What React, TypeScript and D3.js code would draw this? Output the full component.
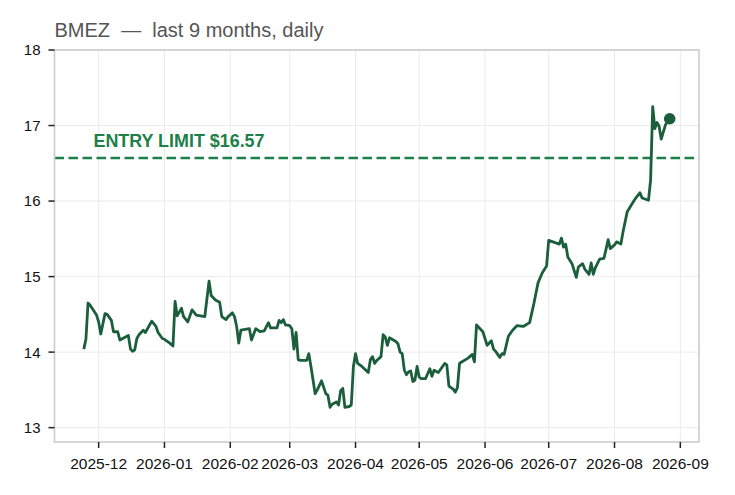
import React from 'react';
import * as d3 from 'd3';

// daily closes
const dates = [
  '2025-11-24', '2025-11-25', '2025-11-26', '2025-11-27', '2025-11-30', '2025-12-01', '2025-12-02', '2025-12-04',
  '2025-12-05', '2025-12-07', '2025-12-08', '2025-12-10', '2025-12-11', '2025-12-13', '2025-12-15', '2025-12-16',
  '2025-12-17', '2025-12-18', '2025-12-19', '2025-12-20', '2025-12-22', '2025-12-23', '2025-12-24', '2025-12-26',
  '2025-12-28', '2025-12-29', '2025-12-31', '2026-01-01', '2026-01-03', '2026-01-05', '2026-01-06', '2026-01-07',
  '2026-01-09', '2026-01-10', '2026-01-12', '2026-01-14', '2026-01-16', '2026-01-20', '2026-01-22', '2026-01-23',
  '2026-01-25', '2026-01-27', '2026-01-28', '2026-01-30', '2026-01-31', '2026-02-02', '2026-02-03', '2026-02-04',
  '2026-02-05', '2026-02-06', '2026-02-08', '2026-02-10', '2026-02-11', '2026-02-13', '2026-02-15', '2026-02-17',
  '2026-02-19', '2026-02-20', '2026-02-23', '2026-02-24', '2026-02-25', '2026-02-26', '2026-02-27', '2026-03-01',
  '2026-03-02', '2026-03-03', '2026-03-04', '2026-03-05', '2026-03-06', '2026-03-09', '2026-03-10', '2026-03-11',
  '2026-03-13', '2026-03-14', '2026-03-16', '2026-03-18', '2026-03-19', '2026-03-20', '2026-03-21', '2026-03-23',
  '2026-03-24', '2026-03-25', '2026-03-26', '2026-03-27', '2026-03-29', '2026-03-30', '2026-03-31', '2026-04-01',
  '2026-04-02', '2026-04-04', '2026-04-07', '2026-04-08', '2026-04-09', '2026-04-10', '2026-04-11', '2026-04-13',
  '2026-04-14', '2026-04-15', '2026-04-16', '2026-04-17', '2026-04-20', '2026-04-21', '2026-04-22', '2026-04-23',
  '2026-04-24', '2026-04-25', '2026-04-26', '2026-04-27', '2026-04-28', '2026-04-29', '2026-04-30', '2026-05-01',
  '2026-05-02', '2026-05-04', '2026-05-06', '2026-05-07', '2026-05-08', '2026-05-10', '2026-05-13', '2026-05-14',
  '2026-05-15', '2026-05-17', '2026-05-18', '2026-05-19', '2026-05-20', '2026-05-21', '2026-05-24', '2026-05-26',
  '2026-05-27', '2026-05-28', '2026-05-31', '2026-06-02', '2026-06-04', '2026-06-05', '2026-06-06', '2026-06-08',
  '2026-06-09', '2026-06-10', '2026-06-12', '2026-06-14', '2026-06-16', '2026-06-19', '2026-06-22', '2026-06-24',
  '2026-06-26', '2026-06-28', '2026-06-30', '2026-07-01', '2026-07-03', '2026-07-06', '2026-07-07', '2026-07-08',
  '2026-07-09', '2026-07-10', '2026-07-12', '2026-07-14', '2026-07-15', '2026-07-17', '2026-07-18', '2026-07-20',
  '2026-07-21', '2026-07-22', '2026-07-23', '2026-07-25', '2026-07-27', '2026-07-28', '2026-07-29', '2026-07-30',
  '2026-08-01', '2026-08-02', '2026-08-04', '2026-08-05', '2026-08-07', '2026-08-09', '2026-08-11', '2026-08-13',
  '2026-08-14', '2026-08-17', '2026-08-18', '2026-08-19', '2026-08-20', '2026-08-21', '2026-08-22', '2026-08-23',
  '2026-08-25', '2026-08-27',
];

const closes = [
  14.04, 14.17, 14.65, 14.62, 14.49, 14.40, 14.24, 14.51,
  14.50, 14.42, 14.27, 14.27, 14.16, 14.19, 14.22, 14.04,
  14.01, 14.03, 14.18, 14.23, 14.29, 14.26, 14.31, 14.41,
  14.34, 14.26, 14.18, 14.17, 14.13, 14.08, 14.67, 14.48,
  14.58, 14.47, 14.40, 14.56, 14.49, 14.47, 14.94, 14.75,
  14.69, 14.66, 14.47, 14.43, 14.47, 14.52, 14.47, 14.34,
  14.12, 14.29, 14.30, 14.31, 14.16, 14.31, 14.27, 14.28,
  14.39, 14.32, 14.32, 14.42, 14.39, 14.43, 14.36, 14.35,
  14.31, 14.04, 14.26, 13.90, 13.89, 13.89, 13.98, 13.81,
  13.45, 13.50, 13.62, 13.45, 13.43, 13.27, 13.31, 13.34,
  13.30, 13.49, 13.52, 13.27, 13.28, 13.30, 13.81, 13.98,
  13.85, 13.81, 13.73, 13.90, 13.94, 13.85, 13.89, 13.94,
  14.23, 14.20, 14.09, 14.19, 14.14, 14.11, 14.00, 13.98,
  13.76, 13.70, 13.74, 13.75, 13.61, 13.63, 13.81, 13.67,
  13.65, 13.65, 13.78, 13.68, 13.76, 13.73, 13.85, 13.83,
  13.55, 13.51, 13.47, 13.53, 13.85, 13.87, 13.92, 13.97,
  13.87, 14.36, 14.27, 14.09, 14.15, 14.04, 14.01, 13.93,
  13.98, 13.97, 14.21, 14.29, 14.35, 14.34, 14.39, 14.64,
  14.92, 15.05, 15.14, 15.48, 15.46, 15.43, 15.51, 15.39,
  15.43, 15.26, 15.17, 14.99, 15.13, 15.17, 15.10, 15.03,
  15.18, 15.03, 15.12, 15.23, 15.24, 15.36, 15.49, 15.37,
  15.42, 15.46, 15.43, 15.59, 15.86, 15.95, 16.04, 16.11,
  16.04, 16.01, 16.28, 17.25, 16.96, 17.04, 16.99, 16.82,
  17.01, 17.09,
];

const yTicks = [13, 14, 15, 16, 17, 18];
const yRange = [12.81, 18.0];
const entryLimit = 16.57;
const ticker = 'BMEZ';

const width = 735;
const height = 495;
const margin = { top: 50, right: 36, bottom: 53, left: 54.5 };

const font = '"Liberation Sans", Arial, sans-serif';
const lineColor = '#1b5e3c';
const limitColor = '#1e8049';

export default function App() {
  const parse = d3.utcParse('%Y-%m-%d');
  const data = dates.map((d, i) => ({ date: parse(d) as Date, close: closes[i] }));

  const innerW = width - margin.left - margin.right;
  const innerH = height - margin.top - margin.bottom;

  // matplotlib-style 5% padding on the time axis
  const [t0, t1] = d3.extent(data, d => d.date) as [Date, Date];
  const pad = (+t1 - +t0) * 0.05;
  const x = d3.scaleUtc()
    .domain([new Date(+t0 - pad), new Date(+t1 + pad)])
    .range([0, innerW]);
  const y = d3.scaleLinear().domain(yRange).range([innerH, 0]);

  const xTicks = x.ticks(d3.utcMonth.every(1) as d3.TimeInterval);
  const fmt = d3.utcFormat('%Y-%m');

  const line = d3.line<{ date: Date; close: number }>()
    .x(d => x(d.date))
    .y(d => y(d.close));

  const last = data[data.length - 1];

  return (
    <svg width={width} height={height} style={{ position: 'absolute', left: 0, top: 0, background: '#fff' }}>
      <text x={margin.left} y={37} fontFamily={font} fontSize={20} fill="#555" style={{ whiteSpace: 'pre' }}>
        {`${ticker}  —  last 9 months, daily`}
      </text>
      <g transform={`translate(${margin.left},${margin.top})`}>
        {/* grid */}
        {yTicks.map(t => (
          <line key={`gy${t}`} x1={0} x2={innerW} y1={y(t)} y2={y(t)} stroke="#ebebeb" strokeWidth={1} />
        ))}
        {xTicks.map(t => (
          <line key={`gx${+t}`} x1={x(t)} x2={x(t)} y1={0} y2={innerH} stroke="#ebebeb" strokeWidth={1} />
        ))}

        {/* entry limit */}
        <line x1={0} x2={innerW} y1={y(entryLimit)} y2={y(entryLimit)}
          stroke={limitColor} strokeWidth={2.6} strokeDasharray="9.5,4.5" />
        <text x={39} y={y(entryLimit) - 11} fontFamily={font} fontSize={17.9} fontWeight="bold" fill={limitColor}>
          {`ENTRY LIMIT $${entryLimit.toFixed(2)}`}
        </text>

        {/* price */}
        <path d={line(data) ?? ''} fill="none" stroke={lineColor} strokeWidth={2.8} strokeLinejoin="round" />
        <circle cx={x(last.date)} cy={y(last.close)} r={5.8} fill={lineColor} />

        {/* frame */}
        <rect x={0} y={0} width={innerW} height={innerH} fill="none" stroke="#cccccc" strokeWidth={1.6} />

        {/* y axis */}
        {yTicks.map(t => (
          <g key={`ty${t}`} transform={`translate(0,${y(t)})`}>
            <line x1={-6} x2={0} stroke="#222" strokeWidth={1.5} />
            <text x={-14} dy="0.36em" textAnchor="end" fontFamily={font} fontSize={15} fill="#111">{t}</text>
          </g>
        ))}

        {/* x axis */}
        {xTicks.map(t => (
          <g key={`tx${+t}`} transform={`translate(${x(t)},${innerH})`}>
            <line y1={0} y2={6} stroke="#222" strokeWidth={1.5} />
            <text y={27} textAnchor="middle" fontFamily={font} fontSize={15.5} fill="#111">{fmt(t)}</text>
          </g>
        ))}
      </g>
    </svg>
  );
}
